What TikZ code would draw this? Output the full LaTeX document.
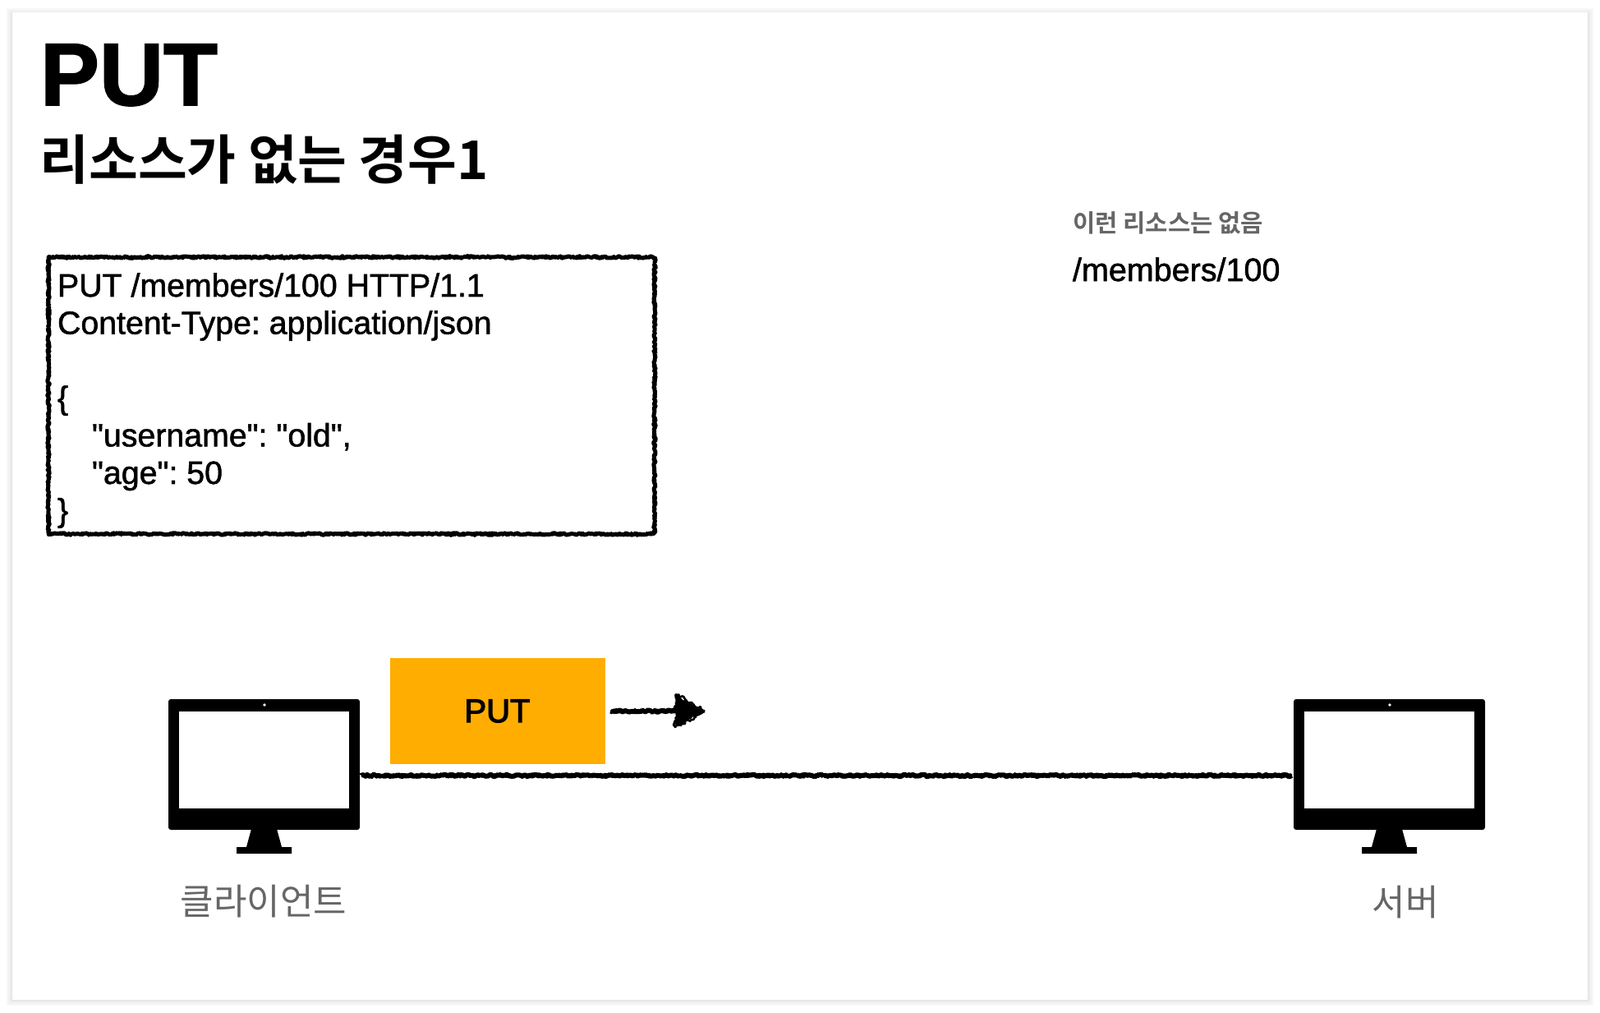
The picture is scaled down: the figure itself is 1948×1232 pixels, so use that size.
\documentclass[tikz,border=0pt]{standalone}
\usepackage{fontspec}
\usetikzlibrary{decorations.pathmorphing,arrows.meta}
\setmainfont{Liberation Sans}
\newfontfamily\latinmed{Liberation Sans}[FakeBold=1.4]
\newfontfamily\latinheavy{Liberation Sans}[FakeBold=3]
\newfontfamily\titlefont{Liberation Sans Bold}[FakeBold=1.5]
\newfontfamily\krbold{Noto Sans CJK KR Bold}
\newfontfamily\krreg{Noto Sans CJK KR}
\frenchspacing
\definecolor{putorange}{HTML}{FFAD00}
\definecolor{labelgray}{HTML}{666666}
\tikzset{
  x=1pt,y=-1pt,
  every node/.style={inner sep=0pt,outer sep=0pt},
  rough/.style={decorate,decoration={random steps,segment length=1.6pt,amplitude=1.2pt},line join=bevel},
  roughink/.style={draw=black,line width=5pt,rough},
  roughpass/.style={draw=black,line width=2.6pt,line join=bevel,decorate,decoration={random steps,segment length=2.2pt,amplitude=2.6pt}},
  monbody/.style={fill=black,draw=none,rounded corners=3pt,minimum width=233pt,minimum height=159pt},
  monlabel/.style={font=\krreg\fontsize{44}{50}\selectfont,text=labelgray,anchor=center},
  codetext/.style={font=\latinmed\fontsize{39.3}{45.6}\selectfont,align=left,anchor=north west},
}
\newcommand{\monitorat}[2]{%
  \begin{scope}[xshift=#2pt]
    \node[monbody] (#1) at (321.5,930.5) {};
    \fill[white] (218,866) rectangle (425,984);
    \fill[white] (322,858) circle (1.9);
    \fill[black] (306,1009) -- (337,1009) -- (343,1031) -- (355,1031) -- (355,1039) -- (288,1039) -- (288,1031) -- (300,1031) -- cycle;
  \end{scope}}
\begin{document}
\begin{tikzpicture}
\useasboundingbox (0,0) rectangle (1948,1232);
\fill[white] (0,0) rectangle (1948,1232);
% card with soft shadow
\foreach \d/\c in {7/3,5/5,3/8,1/11}{
  \fill[black!\c] (15-\d,15-\d+2) rectangle (1933+\d,1217+\d);
}
\fill[white] (15,15) rectangle (1933,1217);
% titles
\node[anchor=base west,font=\titlefont\fontsize{108}{120}\selectfont] (title) at (49,128) {PUT};
\node[anchor=base west,font=\krbold\fontsize{65}{70}\selectfont] (subtitle) at (48.5,218) {리소스가 없는 경우1};
% request box
\node[minimum width=738pt,minimum height=337pt,anchor=north west] (reqbox) at (59,313) {};
\draw[roughink] (reqbox.north west) rectangle (reqbox.south east);
\draw[roughpass] (reqbox.north west) rectangle (reqbox.south east);
\node[codetext] (reqtext) at (70,332.5) {PUT /members/100 HTTP/1.1\\Content-Type: application/json\\\mbox{}\\\{\\\hspace*{42pt}"username": "old",\\\hspace*{42pt}"age": 50\\\}};
% resource note
\node[anchor=base west,font=\krbold\fontsize{29.7}{34}\selectfont,text=labelgray] (note) at (1306,282) {이런 리소스는 없음};
\node[anchor=base west,font=\latinmed\fontsize{39.5}{44}\selectfont] (path) at (1306,342) {/members/100};
% monitors
\monitorat{client}{0}
\monitorat{server}{1370}
\node[monlabel] (clientlabel) at (321,1097) {클라이언트};
\node[monlabel] (serverlabel) at (1711,1098) {서버};
% message
\node[fill=putorange,minimum width=262pt,minimum height=129pt,font=\latinheavy\fontsize{40}{48}\selectfont] (msg) at (605.5,865.5) {PUT};
\coordinate (arrowstart) at ([xshift=7pt]msg.east);
\coordinate (arrowneck) at ([xshift=86pt]msg.east);
\coordinate (arrowtip) at ([xshift=121pt]msg.east);
\draw[roughink,line width=6pt] (arrowstart) -- (arrowneck);
\draw[roughpass] (arrowstart) -- (arrowneck);
\fill[black,rough] ([yshift=-20pt]arrowneck) -- (arrowtip) -- ([yshift=20pt]arrowneck) -- cycle;
\draw[roughpass] ([yshift=-20pt]arrowneck) -- (arrowtip) -- ([yshift=20pt]arrowneck) -- cycle;
% link
\draw[roughink,line width=6pt] ([xshift=2pt,yshift=-13.5pt]client.east) -- ([xshift=-2pt,yshift=-13.5pt]server.west);
\draw[roughpass] ([xshift=2pt,yshift=-13.5pt]client.east) -- ([xshift=-2pt,yshift=-13.5pt]server.west);
\end{tikzpicture}
\end{document}
